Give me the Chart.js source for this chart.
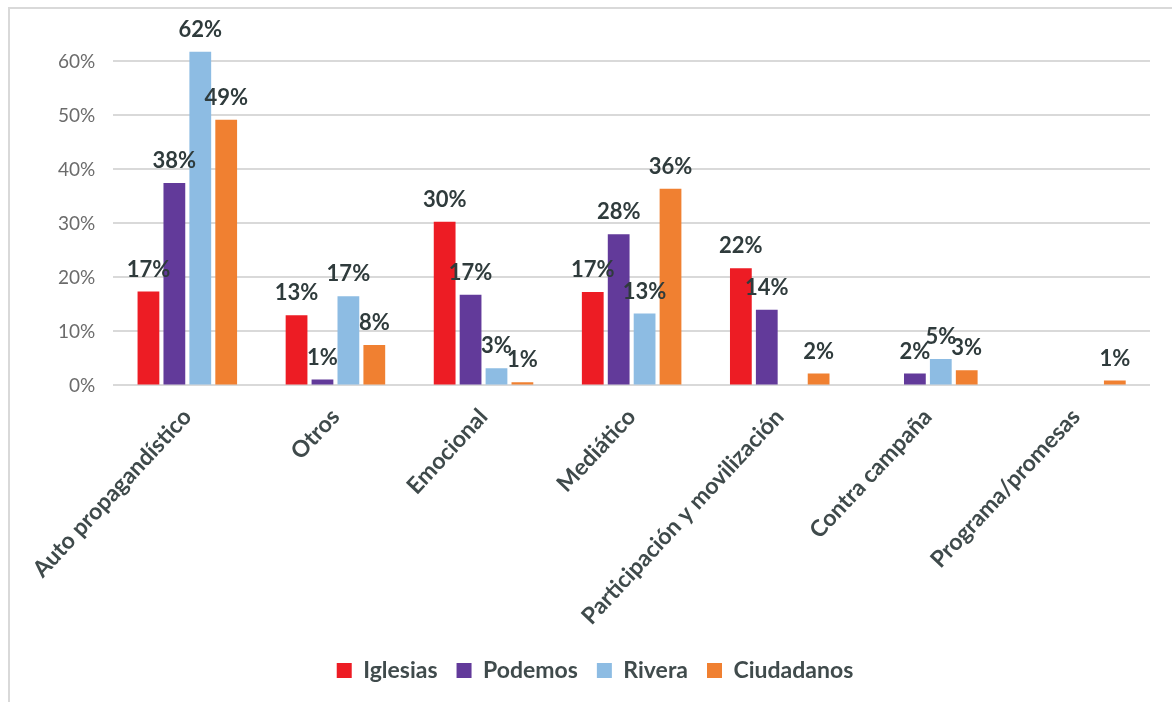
<!DOCTYPE html>
<html>
<head>
<meta charset="utf-8">
<script src="https://cdn.jsdelivr.net/npm/chart.js@4"></script>
<style>
  html, body { margin: 0; padding: 0; background: #fff; overflow: hidden; }
  #marco {
    position: absolute; left: 8px; top: 7px; width: 1164px; height: 695px;
    border-left: 2px solid #d9d9d9; border-top: 2px solid #d9d9d9; box-sizing: border-box;
  }
  #cvs_grafico { position: absolute; left: 0; top: -22px; display: block; }
</style>
</head>
<body>
<div id="marco"></div>
<canvas id="cvs_grafico" width="1172" height="724"></canvas>
<script>
// categorias e series (valores em %)
const categorias = ["Auto propagandístico", "Otros", "Emocional", "Mediático",
    "Participación y movilización", "Contra campaña", "Programa/promesas"];
const iglesias   = [17.4, 13.0, 30.3, 17.3, 21.7, null, null];
const podemos    = [37.5, 1.1, 16.8, 28.0, 14.0, 2.2, null];
const rivera     = [61.8, 16.5, 3.2, 13.3, null, 4.9, null];
const ciudadanos = [49.2, 7.5, 0.6, 36.4, 2.2, 2.8, 0.9];
const ticksY = [0, 10, 20, 30, 40, 50, 60];

const grafico = document.getElementById("cvs_grafico");
const fonte = "Lato, 'Open Sans', sans-serif";

// --- rótulos em cima das barras ---
const rotulosPlugin = {
    id: "rotulos",
    afterDatasetsDraw(chart) {
        const ctx = chart.ctx;
        ctx.save();
        ctx.font = "bold 22px " + fonte;
        ctx.fillStyle = "#2f3b3c";
        ctx.textAlign = "center";
        ctx.textBaseline = "bottom";
        chart.data.datasets.forEach((ds, i) => {
            const meta = chart.getDatasetMeta(i);
            meta.data.forEach((barra, j) => {
                const v = ds.data[j];
                if (v === null) return;
                ctx.fillText(Math.round(v) + "%", barra.x, barra.y - 11);
            });
        });
        ctx.restore();
    }
};

new Chart(grafico, {
    type: "bar",
    data: {
        labels: categorias,
        datasets: [
            { label: "Iglesias", data: iglesias, backgroundColor: "#ed1c24" },
            { label: "Podemos", data: podemos, backgroundColor: "#623a9a" },
            { label: "Rivera", data: rivera, backgroundColor: "#8dbce3" },
            { label: "Ciudadanos", data: ciudadanos, backgroundColor: "#f08031" }
        ]
    },
    options: {
        responsive: false,
        animation: false,
        layout: { padding: { left: 40, right: 22, top: 0, bottom: 10 } },
        datasets: { bar: { barPercentage: 0.84, categoryPercentage: 0.7 } },
        plugins: {
            legend: {
                position: "bottom",
                labels: {
                    boxWidth: 15, boxHeight: 15, padding: 19,
                    color: "#404b4c",
                    font: { size: 23, weight: "bold", family: fonte }
                }
            },
            tooltip: { enabled: false }
        },
        scales: {
            y: {
                min: 0, max: 70,
                afterBuildTicks(axis) {
                    axis.ticks = ticksY.map(v => ({ value: v }));
                },
                ticks: {
                    padding: 18,
                    color: "#6b6b6b",
                    font: { size: 19, family: fonte },
                    callback: v => v + "%"
                },
                grid: { color: "#d9d9d9", lineWidth: 2, drawTicks: false },
                border: { display: false }
            },
            x: {
                ticks: {
                    minRotation: 47, maxRotation: 47,
                    padding: 10,
                    color: "#3f4a4b",
                    font: { size: 23, weight: "bold", family: fonte }
                },
                grid: { display: false },
                border: { display: false }
            }
        }
    },
    plugins: [rotulosPlugin]
});
</script>
</body>
</html>
